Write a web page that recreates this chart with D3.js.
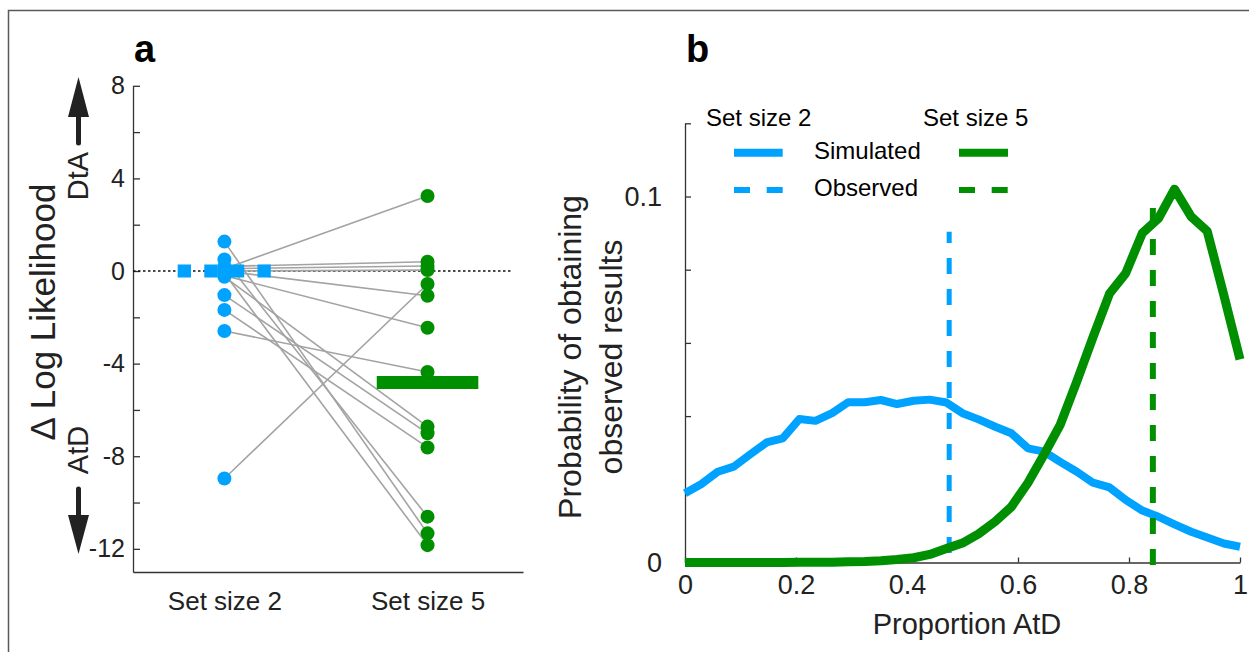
<!DOCTYPE html>
<html>
<head>
<meta charset="utf-8">
<script src="https://cdn.jsdelivr.net/npm/d3@7"></script>
<style>
body { margin: 0; background: #fff; }
svg text { font-family: "Liberation Sans", Arial, sans-serif; fill: #222; }
.axis path, .axis line { stroke: #333; stroke-width: 1.3; }
</style>
</head>
<body>
<script>
// ---- panel a data: one value per participant, paired across set sizes
var groups = ["Set size 2", "Set size 5"];
var dllSS2 = [0.1, 0.2, 0.1, 0.0, -8.96, 0.0, -0.2, -2.59, -0.25, -1.04, -1.68, 1.27, 0.5, -0.1];
var dllSS5 = [3.24, 0.40, 0.22, 0.04, -0.56, -1.07, -2.45, -4.36, -6.72, -7.01, -7.62, -11.33, -10.61, -11.84];
var groupMean = [0, -4.82];
var yTicksA = [-12, -10, -8, -6, -4, -2, 0, 2, 4, 6, 8];

// ---- panel b data
var propAtD = [0, 0.029, 0.059, 0.088, 0.118, 0.147, 0.176, 0.206, 0.235, 0.265, 0.294, 0.324, 0.353, 0.382,
  0.412, 0.441, 0.471, 0.5, 0.529, 0.559, 0.588, 0.618, 0.647, 0.676, 0.706, 0.735, 0.765, 0.794, 0.824,
  0.853, 0.882, 0.912, 0.941, 0.971, 1];
var simSS2 = [0.0189, 0.0214, 0.0248, 0.0262, 0.0296, 0.0328, 0.0339, 0.0392, 0.0387, 0.0408, 0.0438, 0.0438,
  0.0444, 0.0433, 0.0442, 0.0445, 0.0437, 0.0408, 0.0391, 0.0371, 0.0353, 0.0312, 0.0303, 0.0275, 0.0248,
  0.0218, 0.0205, 0.0171, 0.0142, 0.0125, 0.0104, 0.0084, 0.0068, 0.0052, 0.0043];
var simSS5 = [0, 0, 0, 0, 0, 0, 0, 0.0001, 0.0001, 0.0001, 0.0002, 0.0003, 0.0005, 0.0008, 0.0013, 0.0022,
  0.0038, 0.0053, 0.0078, 0.0112, 0.0152, 0.0218, 0.0295, 0.0376, 0.0495, 0.0615, 0.0735, 0.079, 0.09,
  0.094, 0.102, 0.0945, 0.0905, 0.073, 0.0555];
var observed = [0.476, 0.843];
var observedTop = [0.0904, 0.0986];
var observedBottom = [0.0026, -0.0007];
var xTicksB = [0, 0.2, 0.4, 0.6, 0.8, 1];
var yTicksB = [0, 0.02, 0.04, 0.06, 0.08, 0.1, 0.12];
var legendRows = ["Simulated", "Observed"];

var blue = "#00a2ff", green = "#008f00", grey = "#a3a3a3";

var svg = d3.select("body").append("svg")
  .attr("width", 1249)
  .attr("height", 652);

// outer frame
svg.append("rect")
  .attr("x", 8.5).attr("y", 10.5)
  .attr("width", 1300).attr("height", 700)
  .attr("fill", "none").attr("stroke", "#5a5a5a").attr("stroke-width", 1.5);

// ================= panel a =================
var xA = d3.scaleLinear().domain([0.55, 2.47]).range([133, 523]);
var yA = d3.scaleLinear().domain([-13, 8]).range([572, 85.8]);

svg.append("text").attr("x", 134).attr("y", 62)
  .style("font-size", "38px").style("font-weight", "bold").style("fill", "#000").text("a");

svg.append("g").attr("class", "axis")
  .attr("transform", "translate(133,0)")
  .call(d3.axisLeft(yA).tickValues(yTicksA).tickSize(-7).tickSizeOuter(0).tickPadding(8)
    .tickFormat(d => d % 4 === 0 ? d : ""))
  .call(g => g.selectAll("text").style("font-size", "25px").style("fill", "#222"));

svg.append("g").attr("class", "axis")
  .attr("transform", "translate(0," + yA(-13) + ")")
  .call(d3.axisBottom(xA).tickValues([1, 2]).tickSize(0).tickSizeOuter(0).tickPadding(20)
    .tickFormat((d, i) => groups[i]))
  .call(g => g.selectAll("text").style("font-size", "26px").style("fill", "#222"));

// zero line
svg.append("line")
  .attr("x1", xA(0.55)).attr("x2", xA(2.41))
  .attr("y1", yA(0)).attr("y2", yA(0))
  .attr("stroke", "#111").attr("stroke-width", 1.3).attr("stroke-dasharray", "2.5,2.5");

// paired lines
svg.append("g").selectAll("line")
  .data(dllSS2)
  .enter().append("line")
  .attr("x1", xA(1)).attr("y1", d => yA(d))
  .attr("x2", xA(2)).attr("y2", (d, i) => yA(dllSS5[i]))
  .attr("stroke", grey).attr("stroke-width", 1.6);

svg.append("g").selectAll("circle")
  .data(dllSS2)
  .enter().append("circle")
  .attr("cx", xA(1)).attr("cy", d => yA(d)).attr("r", 7)
  .attr("fill", blue);

svg.append("g").selectAll("circle")
  .data(dllSS5)
  .enter().append("circle")
  .attr("cx", xA(2)).attr("cy", d => yA(d)).attr("r", 7)
  .attr("fill", green);

// group bars
svg.append("line")
  .attr("x1", xA(1 - 0.23)).attr("x2", xA(1 + 0.23))
  .attr("y1", yA(groupMean[0])).attr("y2", yA(groupMean[0]))
  .attr("stroke", blue).attr("stroke-width", 13).attr("stroke-dasharray", "13.3,13.3");
svg.append("line")
  .attr("x1", xA(2 - 0.25)).attr("x2", xA(2 + 0.25))
  .attr("y1", yA(groupMean[1])).attr("y2", yA(groupMean[1]))
  .attr("stroke", green).attr("stroke-width", 13);

// y label with arrows
svg.append("text")
  .attr("transform", "translate(55,312) rotate(-90)")
  .attr("text-anchor", "middle")
  .style("font-size", "35px").text("\u0394 Log Likelihood");
svg.append("text")
  .attr("transform", "translate(88,176) rotate(-90)")
  .attr("text-anchor", "middle")
  .style("font-size", "29px").text("DtA");
svg.append("text")
  .attr("transform", "translate(88,450) rotate(-90)")
  .attr("text-anchor", "middle")
  .style("font-size", "29px").text("AtD");

var arrowCol = "#222";
svg.append("line").attr("x1", 78.5).attr("x2", 78.5).attr("y1", 143).attr("y2", 114)
  .attr("stroke", arrowCol).attr("stroke-width", 5).attr("stroke-linecap", "round");
svg.append("path").attr("d", "M68,117 L89,117 L78.5,77 Z").attr("fill", arrowCol);
svg.append("line").attr("x1", 78.5).attr("x2", 78.5).attr("y1", 489).attr("y2", 518)
  .attr("stroke", arrowCol).attr("stroke-width", 5).attr("stroke-linecap", "round");
svg.append("path").attr("d", "M68,515 L89,515 L78.5,554 Z").attr("fill", arrowCol);

// ================= panel b =================
var xB = d3.scaleLinear().domain([0, 1]).range([685, 1240]);
var yB = d3.scaleLinear().domain([0, 0.12]).range([562.5, 123.3]);

svg.append("text").attr("x", 686).attr("y", 62)
  .style("font-size", "38px").style("font-weight", "bold").style("fill", "#000").text("b");

svg.append("g").attr("class", "axis")
  .attr("transform", "translate(0," + yB(0) + ")")
  .call(d3.axisBottom(xB).tickValues(xTicksB).tickSize(-5).tickSizeOuter(0).tickPadding(12)
    .tickFormat(d => (d === 0 || d === 1) ? d : d.toFixed(1)))
  .call(g => g.selectAll("text").style("font-size", "27px").style("fill", "#222"));

svg.append("g").attr("class", "axis")
  .attr("transform", "translate(" + xB(0) + ",0)")
  .call(d3.axisLeft(yB).tickValues(yTicksB).tickSize(-6).tickSizeOuter(0).tickPadding(23)
    .tickFormat(d => d === 0 ? "0" : (Math.abs(d - 0.1) < 1e-9 ? "0.1" : "")))
  .call(g => g.selectAll("text").style("font-size", "27px").style("fill", "#222"));

svg.append("text")
  .attr("x", 967).attr("y", 634).attr("text-anchor", "middle")
  .style("font-size", "29px").text("Proportion AtD");

var yl = svg.append("text")
  .attr("transform", "translate(581,357) rotate(-90)")
  .attr("text-anchor", "middle")
  .style("font-size", "32px");
yl.append("tspan").attr("x", 0).attr("dy", 0).text("Probability of obtaining");
yl.append("tspan").attr("x", 0).attr("dy", 41).text("observed results");

var lineB = d3.line().x((d, i) => xB(propAtD[i])).y(d => yB(d));

svg.append("path").datum(simSS2)
  .attr("d", lineB).attr("fill", "none")
  .attr("stroke", blue).attr("stroke-width", 8).attr("stroke-linejoin", "round");

svg.append("line")
  .attr("x1", xB(observed[0])).attr("x2", xB(observed[0]))
  .attr("y1", yB(observedBottom[0])).attr("y2", yB(observedTop[0]))
  .attr("stroke", blue).attr("stroke-width", 5).attr("stroke-dasharray", "16,15");

svg.append("path").datum(simSS5)
  .attr("d", lineB).attr("fill", "none")
  .attr("stroke", green).attr("stroke-width", 9).attr("stroke-linejoin", "round");

svg.append("line")
  .attr("x1", xB(observed[1])).attr("x2", xB(observed[1]))
  .attr("y1", yB(observedBottom[1])).attr("y2", yB(observedTop[1]))
  .attr("stroke", green).attr("stroke-width", 6).attr("stroke-dasharray", "16,15");

// legend
var leg = svg.append("g");
leg.append("text").attr("x", 706).attr("y", 126).style("font-size", "24px").style("fill", "#000").text(groups[0]);
leg.append("text").attr("x", 923).attr("y", 126).style("font-size", "24px").style("fill", "#000").text(groups[1]);
legendRows.forEach(function (r, i) {
  var y = 152.7 + i * 37.3;
  leg.append("text").attr("x", 814).attr("y", y + 6).style("font-size", "24px").style("fill", "#000").text(r);
  leg.append("line").attr("x1", 734).attr("x2", 782.7).attr("y1", y).attr("y2", y)
    .attr("stroke", blue).attr("stroke-width", i === 0 ? 8 : 6)
    .attr("stroke-dasharray", i === 0 ? null : "16,16.7");
  leg.append("line").attr("x1", 959).attr("x2", 1008).attr("y1", y).attr("y2", y)
    .attr("stroke", green).attr("stroke-width", i === 0 ? 8 : 6)
    .attr("stroke-dasharray", i === 0 ? null : "16,16.7");
});
</script>
</body>
</html>
